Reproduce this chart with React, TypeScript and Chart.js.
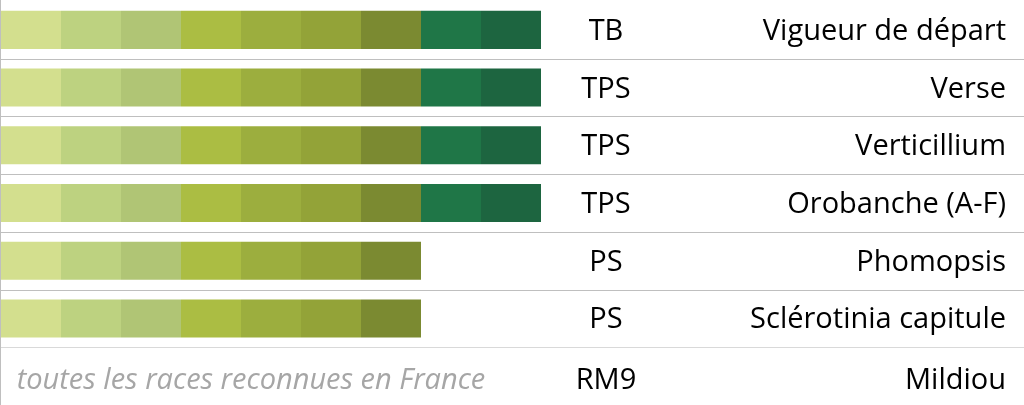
import React, { useEffect, useRef } from "react";
import { Chart, registerables } from "chart.js";

Chart.register(...registerables);

const criteria = [
  "Vigueur de départ",
  "Verse",
  "Verticillium",
  "Orobanche (A-F)",
  "Phomopsis",
  "Sclérotinia capitule",
  "Mildiou",
];
const ratings = ["TB", "TPS", "TPS", "TPS", "PS", "PS", "RM9"];
const segmentCounts = [9, 9, 9, 9, 7, 7, 0];
const segmentColors = [
  "#d3df8e",
  "#bdd280",
  "#b0c575",
  "#abbd43",
  "#9cae3e",
  "#93a338",
  "#7b8a31",
  "#1f7647",
  "#1d6540",
];
const noBarNote = "toutes les races reconnues en France";
const axisMax = 17;

const FONT = "'Open Sans', sans-serif";

const textPlugin = {
  id: "tableText",
  afterDraw(chart: any) {
    const ctx = chart.ctx;
    const y = chart.scales.y;
    ctx.save();
    for (let i = 1; i < criteria.length; i++) {
      const py = Math.round((y.getPixelForValue(i - 1) + y.getPixelForValue(i)) / 2) + 0.5;
      ctx.strokeStyle = i === criteria.length - 1 ? "#d9d9d9" : "#bfbfbf";
      ctx.lineWidth = 1;
      ctx.beginPath();
      ctx.moveTo(0, py);
      ctx.lineTo(chart.width, py);
      ctx.stroke();
    }
    ctx.strokeStyle = "#bfbfbf";
    ctx.beginPath();
    ctx.moveTo(0.5, 0);
    ctx.lineTo(0.5, chart.height);
    ctx.stroke();

    ctx.textBaseline = "alphabetic";
    for (let i = 0; i < criteria.length; i++) {
      const cy = y.getPixelForValue(i);
      const off = segmentCounts[i] === 0 ? 13 : 10;
      const by = cy + off;
      ctx.fillStyle = "#000000";
      ctx.font = `29px ${FONT}`;
      ctx.textAlign = "center";
      ctx.fillText(ratings[i], 606, by);
      ctx.textAlign = "right";
      ctx.fillText(criteria[i], 1006, by);
      if (segmentCounts[i] === 0) {
        ctx.fillStyle = "#a6a6a6";
        ctx.font = `italic 29px ${FONT}`;
        ctx.textAlign = "center";
        ctx.fillText(noBarNote, 251, by);
      }
    }
    ctx.restore();
  },
};

export default function App() {
  const ref = useRef<HTMLCanvasElement | null>(null);
  useEffect(() => {
    document.body.style.margin = "0";
    const canvas = ref.current;
    if (!canvas) return;
    const datasets = segmentColors.map((color, i) => ({
      label: `S${i + 1}`,
      data: segmentCounts.map((c) => (c > i ? 1 : null)),
      backgroundColor: color,
      borderWidth: 0,
      barPercentage: 0.66,
      categoryPercentage: 1,
    }));
    const chart = new Chart(canvas, {
      type: "bar",
      data: { labels: criteria, datasets },
      options: {
        indexAxis: "y",
        responsive: false,
        animation: false,
        layout: { padding: { left: 1, right: 3, top: 1, bottom: 0 } },
        plugins: { legend: { display: false }, tooltip: { enabled: false } },
        scales: {
          x: { stacked: true, min: 0, max: axisMax, display: false },
          y: {
            stacked: true,
            display: true,
            ticks: { display: false },
            grid: { display: false, drawTicks: false },
            border: { display: false },
          },
        },
      },
      plugins: [textPlugin],
    });
    return () => chart.destroy();
  }, []);
  return (
    <div style={{ position: "absolute", left: 0, top: 0, width: 1024, height: 405, background: "#fff" }}>
      <canvas ref={ref} width={1024} height={405} />
    </div>
  );
}
